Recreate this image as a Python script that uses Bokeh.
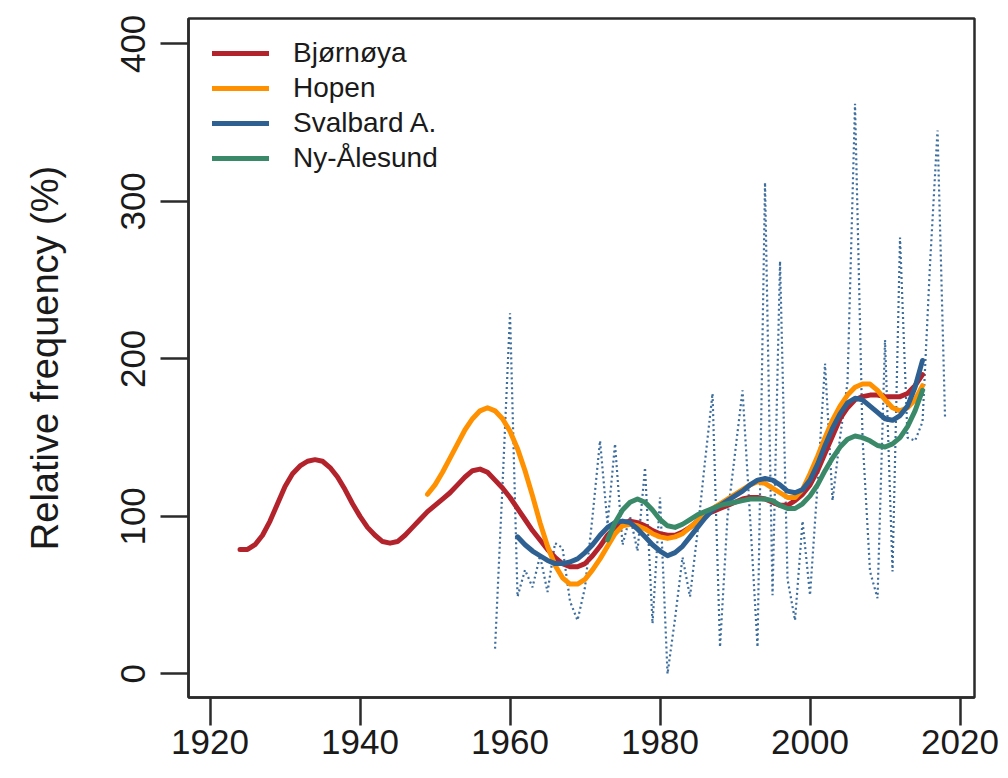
from bokeh.plotting import figure
from bokeh.models import Legend, LegendItem, Range1d, FixedTicker
from bokeh.embed import file_html
from bokeh.resources import INLINE

# ---- data ----
bj_years = list(range(1924, 2016))
bj_vals = [79, 79, 82, 88, 97, 108, 119, 127, 132, 135, 136, 135, 131, 125, 117, 108,
           100, 93, 88, 84, 83, 84, 88, 93, 98, 103, 107, 111, 115, 120, 125, 129,
           130, 128, 123, 118, 112, 105, 98, 91, 85, 79, 74, 70, 68, 68, 70, 75,
           81, 88, 93, 96, 97, 96, 94, 91, 89, 88, 88, 90, 93, 97, 101, 103,
           105, 107, 109, 111, 112, 112, 111, 109, 107, 107, 110, 114, 120, 129, 140, 151,
           162, 169, 174, 176, 177, 177, 176, 176, 176, 178, 183, 190]

hp_years = list(range(1949, 2016))
hp_vals = [114, 120, 128, 137, 146, 155, 162, 167, 169, 167, 162, 154, 143, 129, 113, 96,
           81, 69, 61, 57, 57, 60, 66, 73, 81, 89, 94, 95, 94, 92, 89, 87,
           86, 87, 89, 93, 97, 102, 105, 108, 111, 114, 117, 120, 122, 121, 118, 115,
           112, 112, 117, 127, 138, 150, 161, 170, 177, 182, 184, 184, 180, 174, 169, 167,
           169, 174, 183]

sv_years = list(range(1961, 2016))
sv_vals = [87, 82, 78, 75, 72, 70, 70, 71, 73, 77, 82, 88, 93, 96, 97, 96,
           92, 87, 82, 78, 75, 77, 81, 87, 93, 99, 104, 107, 110, 113, 116, 120,
           123, 124, 123, 120, 116, 115, 117, 123, 133, 145, 156, 165, 172, 175, 174, 170,
           166, 162, 161, 164, 170, 182, 199]

ny_years = list(range(1973, 2016))
ny_vals = [85, 96, 104, 109, 111, 109, 104, 98, 94, 93, 95, 98, 101, 103, 105, 107,
           108, 109, 110, 111, 111, 111, 110, 107, 105, 105, 108, 113, 120, 129, 137, 144,
           149, 151, 150, 148, 145, 144, 146, 150, 157, 167, 180]

annual_years = list(range(1958, 2019))
annual_vals = [16, 120, 229, 49, 66, 55, 75, 52, 83, 80,        # 1958-1967
               46, 34, 55, 100, 148, 95, 146, 82, 100, 78,      # 1968-1977
               131, 32, 112, 0, 35, 74, 49, 90, 135, 178,       # 1978-1987
               17, 100, 140, 180, 100, 17, 312, 50, 262, 60,    # 1988-1997
               34, 97, 50, 120, 197, 110, 150, 185, 362, 150,   # 1998-2007
               65, 48, 212, 65, 277, 150, 148, 160, 260, 345,   # 2008-2017
               163]                                             # 2018

x_ticks = [1920, 1940, 1960, 1980, 2000, 2020]
y_ticks = [0, 100, 200, 300, 400]

names = ["Bjørnøya", "Hopen", "Svalbard A.", "Ny-Ålesund"]
colors = ["#b3232b", "#ff9100", "#2e6192", "#3a8a6a"]

FONT = "Liberation Sans"
DARK = "#2b2b2b"

p = figure(width=1000, height=770, output_backend="svg", toolbar_location=None,
           x_range=Range1d(1917.13, 2021.93), y_range=Range1d(-15.0, 416.1),
           min_border_left=188, min_border_right=26, min_border_top=18,
           min_border_bottom=73)
p.grid.visible = False
p.outline_line_color = DARK
p.outline_line_width = 2.5
p.background_fill_color = "white"
p.border_fill_color = "white"

p.line(annual_years, annual_vals, line_color="#3d6e9e", line_width=2.2, line_dash="2 3")

rs = []
for xs, ys, c in zip([bj_years, hp_years, sv_years, ny_years],
                     [bj_vals, hp_vals, sv_vals, ny_vals], colors):
    rs.append(p.line(xs, ys, line_color=c, line_width=5, line_join="round", line_cap="round"))

for ax in (p.xaxis[0], p.yaxis[0]):
    ax.axis_line_color = DARK
    ax.axis_line_width = 2.5
    ax.major_tick_line_color = DARK
    ax.major_tick_line_width = 2.5
    ax.major_tick_out = 28
    ax.major_tick_in = 0
    ax.minor_tick_line_color = None
    ax.major_label_text_font = FONT
    ax.major_label_text_font_size = "35px"
    ax.major_label_text_color = "#1a1a1a"

p.xaxis.ticker = FixedTicker(ticks=x_ticks)
p.yaxis.ticker = FixedTicker(ticks=y_ticks)
p.xaxis.major_label_standoff = 4
p.yaxis.major_label_standoff = 15
p.yaxis.major_label_orientation = "vertical"
p.yaxis.axis_label = "Relative frequency (%)"
p.yaxis.axis_label_text_font = FONT
p.yaxis.axis_label_text_font_size = "38px"
p.yaxis.axis_label_text_font_style = "normal"
p.yaxis.axis_label_text_color = "#1a1a1a"
p.yaxis.axis_label_standoff = 53

legend = Legend(items=[LegendItem(label=n, renderers=[r]) for n, r in zip(names, rs)],
                location=(24, 522), orientation="vertical",
                label_text_font=FONT, label_text_font_size="28px",
                label_text_color="#1a1a1a",
                glyph_width=57, glyph_height=34, label_height=34, spacing=1,
                label_standoff=24, padding=0, margin=0,
                border_line_color=None, background_fill_alpha=0)
p.add_layout(legend)

open("out.html", "w").write(file_html(p, INLINE))
